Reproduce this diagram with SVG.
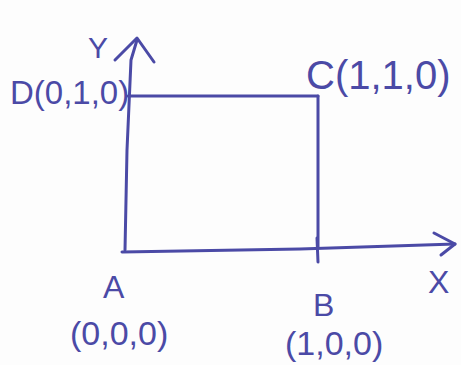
<svg xmlns="http://www.w3.org/2000/svg" width="461" height="365" viewBox="0 0 461 365">
<style>
.ln{stroke:#4b4aa6;stroke-width:3;fill:none;stroke-linecap:round;stroke-linejoin:round}
.t{fill:#4b4aa6;font-family:"Liberation Sans",sans-serif}
</style>
<rect width="461" height="365" fill="#fdfdfd"/>
<g id="connectors">
<path class="ln" d="M125,250 L127,150 L131,60 L137,40"/>
<path class="ln" d="M115,60 L137,38 L154,62"/>
<path class="ln" d="M122,252 L300,249 L455,244"/>
<path class="ln" d="M434,233 L455,244 L441,255"/>
<path class="ln" d="M128,96 L318,96"/>
<path class="ln" d="M318,96 L318,248"/>
<path class="ln" d="M317,238 L318,262"/>
</g>
<g id="nodeY"><text class="t" x="88" y="58" font-size="30">Y</text></g>
<g id="nodeD"><text class="t" x="10" y="104" font-size="33">D(0,1,0)</text></g>
<g id="nodeC"><text class="t" x="306" y="89" font-size="40">C(1,1,0)</text></g>
<g id="nodeA">
<text class="t" x="103" y="298" font-size="32">A</text>
<text class="t" x="70" y="345" font-size="34">(0,0,0)</text>
</g>
<g id="nodeB">
<text class="t" x="313" y="316" font-size="32">B</text>
<text class="t" x="285" y="355" font-size="34">(1,0,0)</text>
</g>
<g id="nodeX"><text class="t" x="428" y="293" font-size="32">X</text></g>
</svg>
